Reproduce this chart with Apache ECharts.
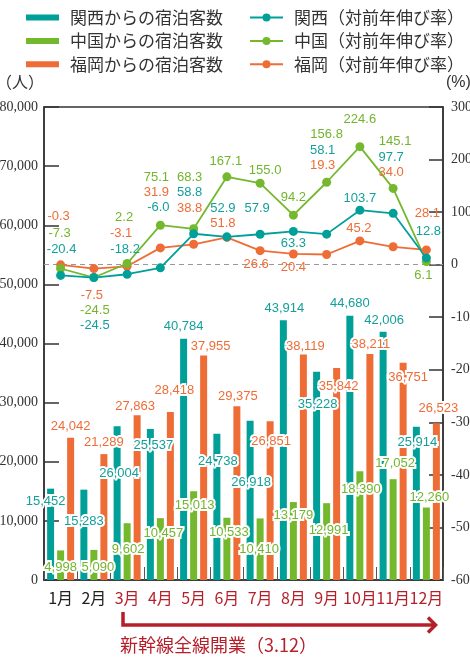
<!DOCTYPE html>
<html>
<head>
<meta charset="utf-8">
<script src="https://cdn.jsdelivr.net/npm/echarts@6/dist/echarts.min.js"></script>
<style>
html,body{margin:0;padding:0;background:#fff;}
#chart{width:470px;height:660px;}
</style>
</head>
<body>
<div id="chart"></div>
<script>
// ---- data ----
const months = ['1月','2月','3月','4月','5月','6月','7月','8月','9月','10月','11月','12月'];
const kansaiGuests  = [15452, 15283, 26004, 25537, 40784, 24738, 26918, 43914, 35228, 44680, 42006, 25914];
const chugokuGuests = [4998, 5090, 9602, 10457, 15013, 10533, 10410, 13179, 12991, 18390, 17052, 12260];
const fukuokaGuests = [24042, 21289, 27863, 28418, 37955, 29375, 26851, 38119, 35842, 38211, 36751, 26523];
const kansaiGrowth  = [-20.4, -24.5, -18.2, -6.0, 58.8, 52.9, 57.9, 63.3, 58.1, 103.7, 97.7, 12.8];
const chugokuGrowth = [-7.3, -24.5, 2.2, 75.1, 68.3, 167.1, 155.0, 94.2, 156.8, 224.6, 145.1, 6.1];
const fukuokaGrowth = [-0.3, -7.5, -3.1, 31.9, 38.8, 51.8, 26.6, 20.4, 19.3, 45.2, 34.0, 28.1];
const leftAxis = {min: 0, max: 80000, interval: 10000};
const rightAxis = {min: -600, max: 300, interval: 100};

// ---- label placement (style only) ----
const barLabelOffsets = {
  kansai:  [[-5,24],[0,43],[2,59],[3,28],[0,-1],[1,39],[1,73],[1,0],[1,44],[0,-1],[1,0],[1,27]],
  chugoku: [[0,28],[4,29],[1,38],[3,27],[1,26],[2,26],[-1,42],[0,25],[2,39],[1,30],[2,-4],[3,1]],
  fukuoka: [[0,0],[0,0],[-2,3],[4,-10],[7,2],[1,2],[1,32],[2,3],[2,30],[1,2],[5,26],[2,-3]]
};
const lineLabelOffsets = {
  kansai:  [[1,-26],[1,48],[-2,-25],[-2,-60],[-4,-41],[-4,-28],[-3,-26],[0,12],[-4,-84],[0,-12],[-2,-56],[2,-27]],
  chugoku: [[-1,-35],[1,33],[-3,-46],[-4,-48],[-4,-51],[-1,-15],[5,-13],[0,-18],[0,-48],[0,-27],[2,-47],[-3,14]],
  fukuoka: [[-2,-48],[-2,27],[-6,-33],[-4,-55],[-4,-36],[-4,-14],[-4,14],[0,13],[-4,-89],[-1,-12],[-2,-74],[1,-36]]
};

const TEAL = '#00a099', GREEN = '#74b82e', ORANGE = '#ee6d37';
const TEAL_T = '#14a09a', GREEN_T = '#72b52c', ORANGE_T = '#ee6d37';
const RED = '#b51f2a';

function withOffsets(values, offs){
  return values.map((v,i)=>({value:v, label:{offset:offs[i]}}));
}
function barSeries(name, values, offs, color, tcolor){
  return {
    name, type:'bar', yAxisIndex:0, barWidth:7, barGap:'43%',
    itemStyle:{color},
    label:{show:true, position:'top', distance:5, color:tcolor, fontSize:13,
      fontFamily:'Liberation Sans', textBorderColor:'#fff', textBorderWidth:4,
      formatter:p=>p.value.toLocaleString('en-US')},
    data: withOffsets(values, offs), z:2
  };
}
function lineSeries(name, values, offs, color, tcolor, extra){
  return Object.assign({
    name, type:'line', yAxisIndex:1, symbol:'circle', symbolSize:9,
    lineStyle:{color, width:1.8}, itemStyle:{color},
    label:{show:true, position:'inside', color:tcolor, fontSize:13, fontFamily:'Liberation Sans',
      formatter:p=>p.value.toFixed(1)},
    data: withOffsets(values, offs), z:5
  }, extra||{});
}

const chart = echarts.init(document.getElementById('chart'), null, {renderer:'canvas'});
const legendText = {color:'#333', fontSize:17, lineHeight:17, fontFamily:'Noto Sans CJK JP', padding:[0,0,0,6]};
chart.setOption({
  animation:false,
  backgroundColor:'#fff',
  legend:[
    {orient:'vertical', left:26, top:9, padding:0, itemWidth:33, itemHeight:6, itemGap:6.4, icon:'rect',
     textStyle:legendText,
     data:['関西からの宿泊客数','中国からの宿泊客数','福岡からの宿泊客数']},
    {orient:'vertical', left:249, top:9, padding:0, itemWidth:33, itemHeight:10, itemGap:6.4,
     textStyle:legendText,
     data:['関西（対前年伸び率）','中国（対前年伸び率）','福岡（対前年伸び率）']}
  ],
  grid:{left:44, right:27, top:107, bottom:80, show:true, borderColor:'#333', borderWidth:1.5,
        containLabel:false, outerBoundsMode:'none'},
  xAxis:{
    type:'category', data:months, boundaryGap:true,
    axisLine:{lineStyle:{color:'#333', width:1.5}},
    axisTick:{show:true, inside:true, length:13, interval:0, lineStyle:{color:'#555', width:1}},
    axisLabel:{margin:10, fontSize:16, interval:0, fontFamily:'Noto Sans CJK JP', hideOverlap:false,
      color:(v,i)=> i<2 ? '#222' : RED}
  },
  yAxis:[
    {type:'value', min:leftAxis.min, max:leftAxis.max, interval:leftAxis.interval, position:'left',
     axisLine:{show:true, lineStyle:{color:'#333', width:1.5}},
     axisTick:{show:true, inside:true, length:15, lineStyle:{color:'#333', width:1.5}},
     splitLine:{show:false},
     axisLabel:{margin:6, color:'#333', fontSize:14, fontFamily:'Liberation Sans Narrow',
       formatter:v=>v.toLocaleString('en-US')}},
    {type:'value', min:rightAxis.min, max:rightAxis.max, interval:rightAxis.interval, position:'right',
     axisLine:{show:true, lineStyle:{color:'#333', width:1.5}},
     axisTick:{show:true, inside:true, length:14, lineStyle:{color:'#333', width:1.5}},
     splitLine:{show:false},
     axisLabel:{margin:8, color:'#333', fontSize:14, fontFamily:'Liberation Sans Narrow'}}
  ],
  series:[
    barSeries('関西からの宿泊客数', kansaiGuests, barLabelOffsets.kansai, TEAL, TEAL_T),
    barSeries('中国からの宿泊客数', chugokuGuests, barLabelOffsets.chugoku, GREEN, GREEN_T),
    barSeries('福岡からの宿泊客数', fukuokaGuests, barLabelOffsets.fukuoka, ORANGE, ORANGE_T),
    lineSeries('福岡（対前年伸び率）', fukuokaGrowth, lineLabelOffsets.fukuoka, ORANGE, ORANGE_T, {
      markLine:{silent:true, symbol:['none','none'], label:{show:false},
        lineStyle:{color:'#999', type:[5,4], width:1.2}, data:[{yAxis:0}]}
    }),
    lineSeries('中国（対前年伸び率）', chugokuGrowth, lineLabelOffsets.chugoku, GREEN, GREEN_T),
    lineSeries('関西（対前年伸び率）', kansaiGrowth, lineLabelOffsets.kansai, TEAL, TEAL_T)
  ],
  graphic:[
    {type:'text', left:-4, top:74, style:{text:'（人）', fontSize:16, fontFamily:'Noto Sans CJK JP', fill:'#333'}},
    {type:'text', left:446, top:75, style:{text:'(%)', fontSize:16, fontFamily:'Liberation Sans', fill:'#333'}},
    {type:'polyline', shape:{points:[[123,612],[123,625],[435,625]]}, style:{stroke:RED, lineWidth:3.5, fill:null}},
    {type:'polyline', shape:{points:[[428,617.5],[435.5,625],[428,632.5]]}, style:{stroke:RED, lineWidth:3.5, fill:null}},
    {type:'text', left:120, top:636, style:{text:'新幹線全線開業（3.12）', fontSize:18, fontFamily:'Noto Sans CJK JP', fill:RED}}
  ]
});
</script>
</body>
</html>
